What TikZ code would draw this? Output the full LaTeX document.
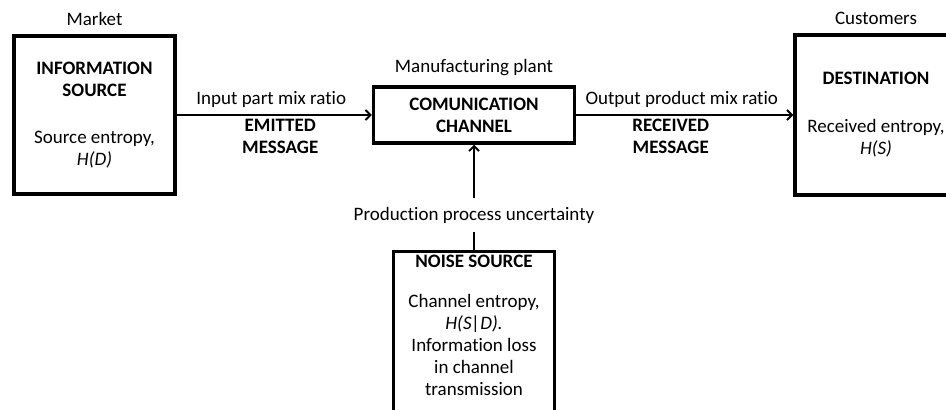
\documentclass[tikz,border=0pt]{standalone}
\usepackage{fontspec}
\setmainfont{Carlito}[Ligatures=NoCommon]
\usetikzlibrary{positioning, arrows.meta}

\tikzset{
    block/.style={draw, line width=3.5pt, align=center, inner sep=0pt},
    flow/.style={line width=1.8pt, -{Straight Barb[length=5pt, width=10pt, line width=1.8pt]}},
    msg/.style={align=center, font=\fontsize{19}{22}\selectfont\bfseries}
}

\begin{document}
\begin{tikzpicture}[x=1pt, y=-1pt, font=\fontsize{19}{22}\selectfont]
    \useasboundingbox (0,0) rectangle (946,410);

    % Boxes
    \node[block, minimum width=161pt, minimum height=158pt] (info) at (94.5,115) {\textbf{INFORMATION}\\\textbf{SOURCE}\\[25pt]Source entropy,\\\textit{H(D)}};
    \node[block, minimum width=201pt, minimum height=56pt] (chan) at (474,115) {\textbf{COMUNICATION}\\\textbf{CHANNEL}};
    \node[block, minimum width=162pt, minimum height=160pt] (dest) at (876,115) {\textbf{DESTINATION}\\[26pt]Received entropy,\\\textit{H(S)}};
    \node[block, minimum width=161pt, minimum height=180pt, anchor=north] (noise) at (474,249.5) {};
    \node[align=center, inner sep=0pt, anchor=north] (noisetext) at (474,254.5) {\textbf{NOISE SOURCE}\\[18pt]Channel entropy,\\\textit{H(S|D).}\\Information loss\\in channel\\transmission};

    % Places
    \node[above=5pt of info] (market) {Market};
    \node[above=6pt of chan] (plant) {Manufacturing plant};
    \node[above=5pt of dest] (customers) {Customers};

    % Messages
    \draw[flow] (info) -- node[above=3pt, xshift=-3pt] (inratio) {Input part mix ratio}
        node[below, msg, xshift=6pt] (emitted) {EMITTED\\MESSAGE} (chan);
    \draw[flow] (chan) -- node[above=3pt, xshift=-3pt] (outratio) {Output product mix ratio}
        node[below, msg, xshift=-14pt] (received) {RECEIVED\\MESSAGE} (dest);

    % Noise
    \draw[flow] (noise) -- node[pos=0.33, fill=white, inner ysep=8.5pt] (uncert) {Production process uncertainty} (chan);
\end{tikzpicture}
\end{document}
